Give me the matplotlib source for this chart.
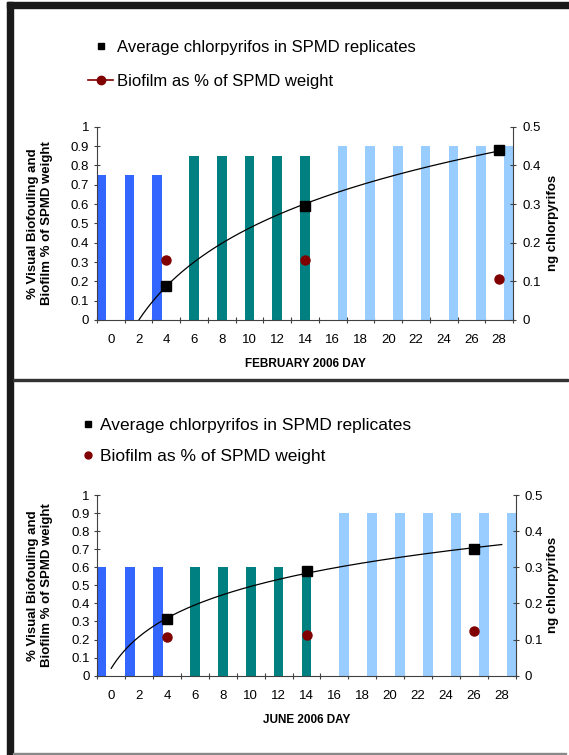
import matplotlib.pyplot as plt
import numpy as np
from matplotlib.lines import Line2D
from matplotlib.patches import Rectangle
from matplotlib.ticker import FuncFormatter

plt.rcParams['font.family'] = ['Liberation Sans', 'DejaVu Sans']

# bar positions (day) and colours, shared by both panels
bar_days = [-0.7, 1.35, 3.35, 6, 8, 10, 12, 14, 16.7, 18.7, 20.7, 22.7, 24.7, 26.7, 28.7]
bar_colors = ['#3366FF'] * 3 + ['#008080'] * 5 + ['#99CCFF'] * 7

# February panel
feb_fouling = [0.75, 0.75, 0.75, 0.85, 0.85, 0.85, 0.85, 0.85, 0.9, 0.9, 0.9, 0.9, 0.9, 0.9, 0.9]
feb_days = [4, 14, 28]
feb_chlor = [0.089, 0.296, 0.44]
feb_biofilm = [0.31, 0.31, 0.21]

# June panel
jun_fouling = [0.6, 0.6, 0.6, 0.6, 0.6, 0.6, 0.6, 0.6, 0.9, 0.9, 0.9, 0.9, 0.9, 0.9, 0.9]
jun_days = [4, 14, 26]
jun_chlor = [0.157, 0.29, 0.35]
jun_biofilm = [0.212, 0.227, 0.249]

day_labels = list(range(0, 29, 2))

W, H = 569, 755
fig = plt.figure(figsize=(W / 100, H / 100), dpi=100)
spine_col = '#404040'
fmt = FuncFormatter(lambda v, p: '%g' % round(v, 2))


def panel(left, top, right, bottom, fouling, days, chlor, biofilm, xlabel):
    ax = fig.add_axes([left / W, 1 - bottom / H, (right - left) / W, (bottom - top) / H])
    ax.bar(bar_days, fouling, width=0.7, color=bar_colors, zorder=2)
    ax.plot(days, biofilm, 'o', color='#800000', markersize=6.5, zorder=3)
    ax.set_xlim(-1, 29)
    ax.set_ylim(0, 1)
    ax.set_yticks(np.arange(0, 1.01, 0.1))
    ax.yaxis.set_major_formatter(fmt)
    ax.set_xticks(np.arange(-1, 30, 2))
    ax.set_xticklabels([])
    ax.set_xticks(day_labels, minor=True)
    ax.set_xticklabels([str(d) for d in day_labels], minor=True)
    ax.tick_params(axis='x', which='major', direction='inout', length=5, color=spine_col)
    ax.tick_params(axis='x', which='minor', length=0, pad=10, labelsize=9.5)
    ax.tick_params(axis='y', direction='inout', length=5, color=spine_col, labelsize=9.5, pad=3)
    for s in ['top', 'right']:
        ax.spines[s].set_visible(False)
    for s in ['left', 'bottom']:
        ax.spines[s].set_color(spine_col)

    ax2 = ax.twinx()
    # logarithmic trendline fitted on category index, as the spreadsheet does
    idx = np.array(days) / 2 + 1
    a, b = np.polyfit(np.log(idx), chlor, 1)
    t = np.linspace(0, 28, 300)
    ax2.plot(t, a * np.log(t / 2 + 1) + b, color='black', linewidth=0.9)
    ax2.plot(days, chlor, 's', color='black', markersize=6.8)
    ax2.set_ylim(0, 0.5)
    ax2.set_yticks(np.arange(0, 0.51, 0.1))
    ax2.yaxis.set_major_formatter(fmt)
    ax2.tick_params(axis='y', direction='inout', length=5, color=spine_col, labelsize=9.5, pad=4)
    for s in ['top', 'left', 'bottom']:
        ax2.spines[s].set_visible(False)
    ax2.spines['right'].set_color(spine_col)

    cy = 1 - (top + bottom) / 2 / H
    fig.text(40 / W, cy, '% Visual Biofouling and\nBiofilm % of SPMD weight', rotation=90,
             ha='center', va='center', fontsize=9.5, fontweight='bold', linespacing=1.3)
    fig.text(553 / W, cy, 'ng chlorpyrifos', rotation=90, ha='center', va='center',
             fontsize=9.5, fontweight='bold')
    fig.text((left + right) / 2 / W, 1 - (bottom + 44) / H, xlabel, ha='center', va='center',
             fontsize=8.5, fontweight='bold')
    return ax


panel(97, 126.7, 513, 320, feb_fouling, feb_days, feb_chlor, feb_biofilm, 'FEBRUARY 2006 DAY')
panel(97.3, 495, 515.7, 675.7, jun_fouling, jun_days, jun_chlor, jun_biofilm, 'JUNE 2006 DAY')

# legends
h1 = [Line2D([], [], marker='s', color='black', linestyle='None', markersize=5),
      Line2D([], [], marker='o', color='#800000', linewidth=1.2, markersize=6)]
fig.legend(h1, ['Average chlorpyrifos in SPMD replicates', 'Biofilm as % of SPMD weight'],
           loc='upper left', bbox_to_anchor=(88 / W, 1 - 40 / H), frameon=False, fontsize=12,
           handlelength=1.5, handletextpad=0.25, labelspacing=1.15, borderpad=0, borderaxespad=0)
h2 = [Line2D([], [], marker='s', color='black', linestyle='None', markersize=4.8),
      Line2D([], [], marker='o', color='#800000', linestyle='None', markersize=5)]
fig.legend(h2, ['Average chlorpyrifos in SPMD replicates', 'Biofilm as % of SPMD weight'],
           loc='upper left', bbox_to_anchor=(81 / W, 1 - 418 / H), frameon=False, fontsize=12.5,
           handlelength=0.8, handletextpad=0.3, labelspacing=0.9, borderpad=0, borderaxespad=0)

# page frame lines
fig.add_artist(Rectangle((7 / W, 0), 6 / W, 1 - 2 / H, transform=fig.transFigure, color='#1a1a1a'))
fig.add_artist(Rectangle((7 / W, 1 - 8 / H), 1 - 7 / W, 6 / H, transform=fig.transFigure, color='#1a1a1a'))
fig.add_artist(Rectangle((13 / W, 1 - 381 / H), 555 / W, 1.6 / H, transform=fig.transFigure, color='#333333'))
fig.add_artist(Rectangle((13 / W, 1 - 754.5 / H), 553 / W, 1.2 / H, transform=fig.transFigure, color='#888888'))

fig.savefig('out.png', dpi=100)
